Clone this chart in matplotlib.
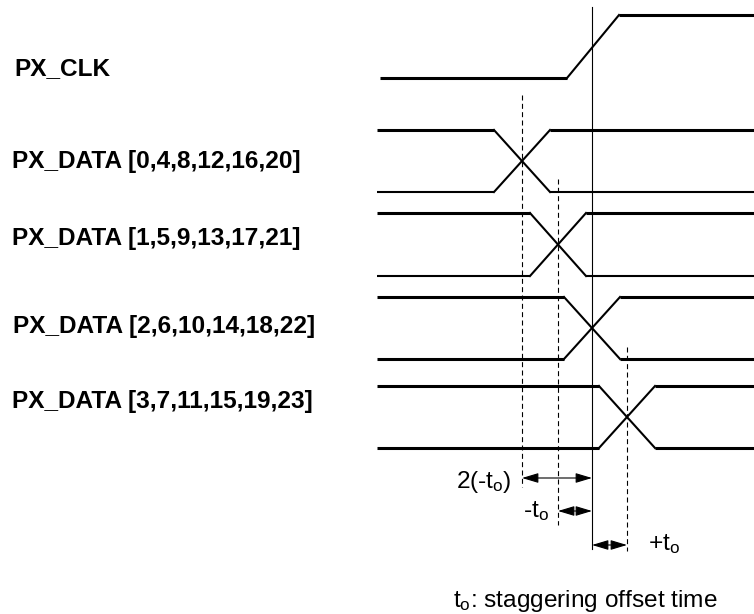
import matplotlib.pyplot as plt
from matplotlib.patches import FancyArrowPatch


# =========================
# 0. 폰트 설정
# =========================

plt.rcParams["font.family"] = ["Liberation Sans", "DejaVu Sans"]
plt.rcParams["mathtext.fontset"] = "custom"
plt.rcParams["mathtext.rm"] = "Liberation Sans"
plt.rcParams["mathtext.it"] = "Liberation Sans"


# =========================
# 1. 데이터 (그림 픽셀 좌표 기준, y는 아래로 증가)
# =========================

signal_names = [
    "PX_CLK",
    "PX_DATA [0,4,8,12,16,20]",
    "PX_DATA [1,5,9,13,17,21]",
    "PX_DATA [2,6,10,14,18,22]",
    "PX_DATA [3,7,11,15,19,23]",
]
label_x = [14, 12, 12, 13, 12]
label_baseline = [75, 168, 245, 333, 408]

# 클럭
clk_start = 380
clk_end = 754
clk_low = 78
clk_high = 15
clk_edge_start = 567
clk_edge_end = 619

# 데이터 레인
data_start = 377
data_end = 754
data_high = [130, 213, 297, 386]
data_low = [192, 276, 359, 448]
data_cross = [522, 558, 592, 627]
data_edge_width = 56
data_low_lw = [1.5, 1.5, 2.2, 2.2]

# 기준선 (실선) 과 staggering 점선
ref_x = 592
ref_top = 7
ref_bottom = 549
dash_x = [522, 558, 627]
dash_top = [95, 179, 347]
dash_bottom = [487, 525, 551]

# 치수 화살표
arrow_y = [478, 511, 545]
arrow_x0 = [522, 558, 592]
arrow_x1 = [592, 592, 627]
arrow_labels = [r"2(-t$_{o}$)", r"-t$_{o}$", r"+t$_{o}$"]
arrow_label_x = [512, 523, 648]
arrow_label_y = [488, 517, 550]
arrow_label_ha = ["right", "left", "left"]

caption = r"t$_{o}$: staggering offset time"
caption_x = 453
caption_y = 607

FONT_SIZE = 17.6


# =========================
# 2. 그림
# =========================

W, H = 754, 614
fig = plt.figure(figsize=(W / 100, H / 100), dpi=100)
ax = fig.add_axes([0, 0, 1, 1])
ax.set_xlim(0, W)
ax.set_ylim(H, 0)
ax.axis("off")

# 클럭 파형
ax.plot([clk_start, clk_edge_start], [clk_low, clk_low], color="black", lw=2.2, solid_capstyle="butt")
ax.plot([clk_edge_start, clk_edge_end], [clk_low, clk_high], color="black", lw=1.5)
ax.plot([clk_edge_end, clk_end], [clk_high, clk_high], color="black", lw=2.2, solid_capstyle="butt")

# 데이터 파형 (X 모양 전이)
for hi, lo, cx, low_lw in zip(data_high, data_low, data_cross, data_low_lw):
    x0 = cx - data_edge_width / 2
    x1 = cx + data_edge_width / 2
    ax.plot([data_start, x0], [hi, hi], color="black", lw=2.2, solid_capstyle="butt")
    ax.plot([data_start, x0], [lo, lo], color="black", lw=low_lw, solid_capstyle="butt")
    ax.plot([x0, x1], [hi, lo], color="black", lw=1.5)
    ax.plot([x0, x1], [lo, hi], color="black", lw=1.5)
    ax.plot([x1, data_end], [hi, hi], color="black", lw=2.2, solid_capstyle="butt")
    ax.plot([x1, data_end], [lo, lo], color="black", lw=low_lw, solid_capstyle="butt")

# 기준선
ax.plot([ref_x, ref_x], [ref_top, ref_bottom], color="black", lw=0.8)
for x, top, bottom in zip(dash_x, dash_top, dash_bottom):
    ax.plot([x, x], [top, bottom], color="black", lw=0.8, linestyle=(0, (4.5, 3)))

# 화살표
for y, x0, x1 in zip(arrow_y, arrow_x0, arrow_x1):
    arrow = FancyArrowPatch(
        (x0, y), (x1, y),
        arrowstyle="<|-|>,head_length=1.0,head_width=0.3",
        mutation_scale=10,
        shrinkA=0, shrinkB=0,
        color="black", lw=0.8,
    )
    ax.add_patch(arrow)

# 라벨
for name, x, y in zip(signal_names, label_x, label_baseline):
    ax.text(x, y, name, fontsize=FONT_SIZE, fontweight="bold", ha="left", va="baseline")

for text, x, y, ha in zip(arrow_labels, arrow_label_x, arrow_label_y, arrow_label_ha):
    ax.text(x, y, text, fontsize=FONT_SIZE, ha=ha, va="baseline")

ax.text(caption_x, caption_y, caption, fontsize=FONT_SIZE, ha="left", va="baseline")

fig.savefig("out.png", dpi=100)
plt.close(fig)
